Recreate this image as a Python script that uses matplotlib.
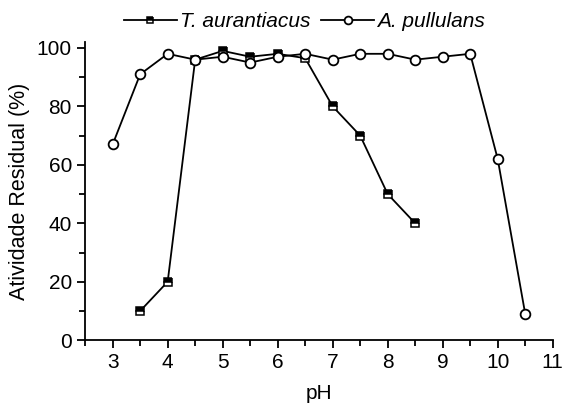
import matplotlib
matplotlib.use("Agg")
import matplotlib.pyplot as plt
from matplotlib.ticker import MultipleLocator

plt.rcParams['font.family'] = ['Liberation Sans', 'DejaVu Sans']

ph_t = [3.5, 4, 4.5, 5, 5.5, 6, 6.5, 7, 7.5, 8, 8.5]
t_aurantiacus = [10, 20, 96, 99, 97, 98, 96.5, 80, 70, 50, 40]

ph_a = [3, 3.5, 4, 4.5, 5, 5.5, 6, 6.5, 7, 7.5, 8, 8.5, 9, 9.5, 10, 10.5]
a_pullulans = [67, 91, 98, 96, 97, 95, 97, 98, 96, 98, 98, 96, 97, 98, 62, 9]

fig = plt.figure(figsize=(5.64, 4.05), dpi=100)
ax = fig.add_axes([0.151, 0.16, 0.829, 0.736])

ax.plot(ph_t, t_aurantiacus, color='black', lw=1.3, marker='s', ms=6,
        fillstyle='top', markerfacecolor='black', markerfacecoloralt='white',
        markeredgecolor='black', mew=1.1, label='T. aurantiacus')
ax.plot(ph_a, a_pullulans, color='black', lw=1.3, marker='o', ms=7,
        markerfacecolor='white', markeredgecolor='black', mew=1.3,
        label='A. pullulans')

ax.set_xlim(2.5, 11)
ax.set_ylim(0, 102)
ax.xaxis.set_major_locator(MultipleLocator(1))
ax.xaxis.set_minor_locator(MultipleLocator(0.5))
ax.yaxis.set_minor_locator(MultipleLocator(10))
ax.set_yticks([0, 20, 40, 60, 80, 100])

for s in ['top', 'right']:
    ax.spines[s].set_visible(False)
for s in ['left', 'bottom']:
    ax.spines[s].set_linewidth(1.3)

ax.tick_params(which='major', direction='out', length=6, width=1.3, labelsize=15)
ax.tick_params(which='minor', direction='out', length=4, width=1.3)

ax.set_xlabel('pH', fontsize=15, labelpad=8)
ax.set_ylabel('Atividade Residual (%)', fontsize=15.5, labelpad=5)

leg = fig.legend(loc='center', bbox_to_anchor=(0.54, 0.946), ncol=2,
                 frameon=False, fontsize=15, handlelength=2.55, columnspacing=0.5,
                 handletextpad=0.15, borderaxespad=0, markerscale=0.8)
for t in leg.get_texts():
    t.set_fontstyle('italic')

fig.savefig('out.png', dpi=100)
